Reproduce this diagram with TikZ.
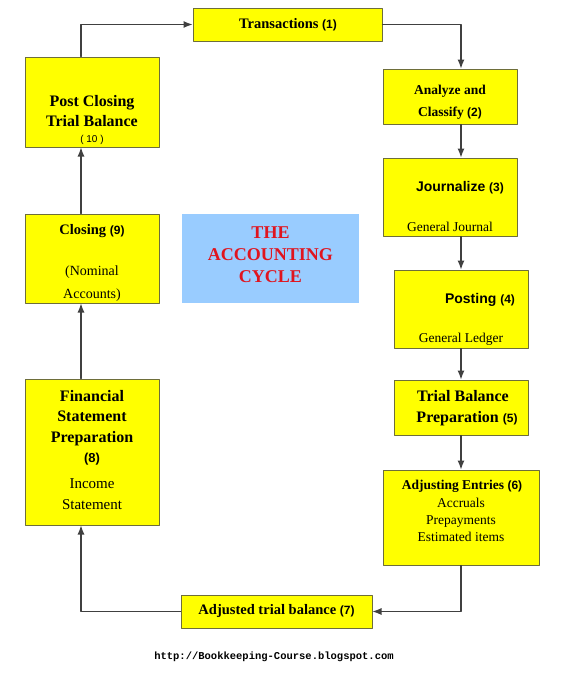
\documentclass[tikz,border=0pt]{standalone}
\usepackage{fontspec}
\setmainfont{Liberation Serif}
\newfontfamily\arialf{Liberation Sans}
\setmonofont{Liberation Mono}
\usetikzlibrary{arrows.meta}

\definecolor{boxyellow}{HTML}{FFFF00}
\definecolor{boxedge}{HTML}{6E6E3A}
\definecolor{titleblue}{HTML}{99CCFF}
\definecolor{titlered}{HTML}{E0141E}
\definecolor{linegray}{HTML}{404040}

\begin{document}
\begin{tikzpicture}[x=1pt, y=-1pt, line cap=round, line join=round,
  box/.style={draw=boxedge, fill=boxyellow, line width=1pt, inner sep=0pt},
  conn/.style={draw=linegray, line width=1.1pt, -{Latex[length=9pt,width=7pt]}},
  hd/.style={inner sep=0pt, align=center, font=\fontsize{14.5}{20}\selectfont\bfseries},
  hdbig/.style={inner sep=0pt, align=center, font=\fontsize{16}{20.5}\selectfont\bfseries},
  sub/.style={inner sep=0pt, align=center, font=\fontsize{13.5}{17}\selectfont}]

  %% ════ 方框 ════
  \node[box, minimum width=189pt, minimum height=33pt] (trans)    at (287.5,24.5) {};
  \node[box, minimum width=134pt, minimum height=55pt] (analyze)  at (450,96.5) {};
  \node[box, minimum width=134pt, minimum height=78pt] (journal)  at (450,197) {};
  \node[box, minimum width=134pt, minimum height=78pt] (posting)  at (461,309) {};
  \node[box, minimum width=134pt, minimum height=55pt] (trial)    at (461,407.5) {};
  \node[box, minimum width=156pt, minimum height=95pt] (adjust)   at (461,517.5) {};
  \node[box, minimum width=191pt, minimum height=33pt] (adjtb)    at (276.5,611.5) {};
  \node[box, minimum width=134pt, minimum height=146pt] (finst)   at (92,452) {};
  \node[box, minimum width=134pt, minimum height=89pt] (closing)  at (92,258.5) {};
  \node[box, minimum width=134pt, minimum height=90pt] (postclose) at (92,102) {};
  \node[fill=titleblue, inner sep=0pt, minimum width=177pt, minimum height=89pt] (cyclebox) at (270.5,258.5) {};

  %% ════ 文字 ════
  \node[hd] (transtxt) at (288,25) {Transactions {\arialf\fontsize{12}{14}\selectfont(1)}};
  \node[hd, font=\fontsize{13.5}{22}\selectfont\bfseries] (analyzetxt) at (450,102) {Analyze and\\Classify {\arialf\fontsize{12}{14}\selectfont(2)}};
  \node[inner sep=0pt, font=\arialf\fontsize{14}{17}\selectfont\bfseries] (journaltxt) at (460,188) {Journalize {\fontsize{12}{14}\selectfont(3)}};
  \node[sub] (journalsub) at (450,227) {General Journal};
  \node[inner sep=0pt, font=\arialf\fontsize{14}{17}\selectfont\bfseries] (postingtxt) at (480,300) {Posting {\fontsize{12}{14}\selectfont(4)}};
  \node[sub] (postingsub) at (461,339) {General Ledger};
  \node[hdbig] (trialtxt) at (463,408) {Trial Balance\\\hspace*{8pt}Preparation {\arialf\fontsize{12}{14}\selectfont(5)}};
  \node[hd, font=\fontsize{13.5}{17}\selectfont\bfseries] (adjusttxt) at (462,486) {Adjusting Entries {\arialf\fontsize{12}{14}\selectfont(6)}};
  \node[sub, font=\fontsize{13.5}{17}\selectfont] (adjustsub) at (461,520) {Accruals\\Prepayments\\Estimated items};
  \node[hd] (adjtbtxt) at (276.5,611) {Adjusted trial balance {\arialf\fontsize{12}{14}\selectfont(7)}};
  \node[hdbig] (finsttxt) at (92,428) {Financial\\Statement\\Preparation\\{\arialf\fontsize{13}{14}\selectfont(8)}};
  \node[sub, font=\fontsize{15}{20.5}\selectfont] (finstsub) at (92,494) {Income\\Statement};
  \node[hd] (closingtxt) at (92,231) {Closing {\arialf\fontsize{12}{14}\selectfont(9)}};
  \node[sub, font=\fontsize{14}{23}\selectfont] (closingsub) at (92,283.5) {(Nominal\\Accounts)};
  \node[hdbig] (postclosetxt) at (92,111) {Post Closing\\Trial Balance};
  \node[inner sep=0pt, font=\arialf\fontsize{10}{12}\selectfont] (postcloseno) at (92,140) {( 10 )};
  \node[inner sep=0pt, align=center, text=titlered, font=\fontsize{18}{22}\selectfont\bfseries] (cycletxt) at (270.5,255) {THE\\ACCOUNTING\\CYCLE};
  \node[inner sep=0pt, font=\ttfamily\bfseries\fontsize{10.5}{12}\selectfont] (url) at (274,657) {http://Bookkeeping-Course.blogspot.com};

  %% ════ 连线 ════
  \draw[conn] (trans.east) -| ([xshift=11pt]analyze.north);
  \draw[conn] ([xshift=11pt]analyze.south) -- ([xshift=11pt]journal.north);
  \draw[conn] ([xshift=11pt]journal.south) -- (posting.north);
  \draw[conn] (posting.south) -- (trial.north);
  \draw[conn] (trial.south) -- (adjust.north);
  \draw[conn] (adjust.south) |- (adjtb.east);
  \draw[conn] (adjtb.west) -| ([xshift=-11pt]finst.south);
  \draw[conn] ([xshift=-11pt]finst.north) -- ([xshift=-11pt]closing.south);
  \draw[conn] ([xshift=-11pt]closing.north) -- ([xshift=-11pt]postclose.south);
  \draw[conn] ([xshift=-11pt]postclose.north) |- (trans.west);

  % 钉死画布
  \pgfresetboundingbox
  \path[use as bounding box] (0,0) rectangle (561,683);
\end{tikzpicture}
\end{document}
